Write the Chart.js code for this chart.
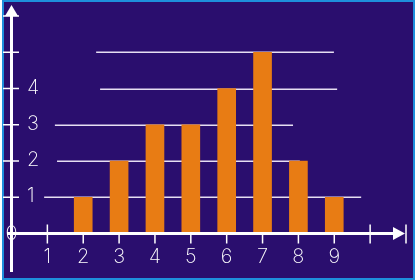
<!DOCTYPE html>
<html>
<head>
<meta charset="utf-8">
<script src="https://cdn.jsdelivr.net/npm/chart.js@4/dist/chart.umd.min.js"></script>
<style>
  html, body { margin: 0; padding: 0; background: #ffffff; }
  canvas { display: block; }
</style>
</head>
<body>
<canvas id="chart" width="415" height="280"></canvas>
<script>
// data
const categories = [1, 2, 3, 4, 5, 6, 7, 8, 9];
const counts = [0, 1, 2, 3, 3, 4, 5, 2, 1];
const xTickValues = [1, 2, 3, 4, 5, 6, 7, 8, 9, 10, 11];
const xTickLabels = ['1', '2', '3', '4', '5', '6', '7', '8', '9', '', ''];
const yTickValues = [0, 1, 2, 3, 4, 5, 6];
const yTickLabels = ['0', '1', '2', '3', '4', '', ''];
// horizontal rules: level and x-range they span
const ruleLevels = [1, 2, 3, 4, 5];
const ruleFrom = [0.91, 1.27, 1.21, 2.47, 2.36];
const ruleTo = [9.75, 8.04, 7.85, 9.08, 8.99];

const BG = '#2a0e6e';
const FRAME = '#1e8fdc';
const BAR = '#e87c14';
const FONT = '200 20px Inter, "Liberation Sans Narrow", sans-serif';

const decor = {
  id: 'decor',
  beforeDraw(chart) {
    const { ctx, width, height } = chart;
    ctx.save();
    ctx.fillStyle = '#ffffff';
    ctx.fillRect(0, 0, width, height);
    ctx.fillStyle = BG;
    ctx.fillRect(2, 0, width - 2, height);
    ctx.strokeStyle = FRAME;
    ctx.lineWidth = 2;
    ctx.strokeRect(3, 1, width - 4, height - 2);
    ctx.restore();
  },
  beforeDatasetsDraw(chart) {
    const { ctx, scales: { x, y } } = chart;
    ctx.save();
    ctx.strokeStyle = '#e6def2';
    ctx.lineWidth = 1.5;
    ruleLevels.forEach((lv, i) => {
      const py = Math.round(y.getPixelForValue(lv)) + 0.25;
      ctx.beginPath();
      ctx.moveTo(x.getPixelForValue(ruleFrom[i]), py);
      ctx.lineTo(x.getPixelForValue(ruleTo[i]), py);
      ctx.stroke();
    });
    ctx.restore();
  },
  afterDatasetsDraw(chart) {
    const { ctx, scales: { x, y } } = chart;
    const x0 = x.getPixelForValue(0);
    const y0 = y.getPixelForValue(0);
    const yTop = y.getPixelForValue(6);
    const xEnd = x.getPixelForValue(11);
    ctx.save();
    ctx.strokeStyle = '#ffffff';
    ctx.fillStyle = '#ffffff';

    // axes
    ctx.lineWidth = 3;
    ctx.beginPath();
    ctx.moveTo(x0, yTop - 2);
    ctx.lineTo(x0, 272);
    ctx.moveTo(7, y0);
    ctx.lineTo(xEnd - 12, y0);
    ctx.stroke();

    // arrow heads
    ctx.beginPath();
    ctx.moveTo(x0, 5);
    ctx.lineTo(x0 - 6.5, yTop);
    ctx.lineTo(x0 + 6.5, yTop);
    ctx.closePath();
    ctx.fill();
    ctx.beginPath();
    ctx.moveTo(xEnd - 1, y0);
    ctx.lineTo(xEnd - 13, y0 - 6.5);
    ctx.lineTo(xEnd - 13, y0 + 6.5);
    ctx.closePath();
    ctx.fill();

    // ticks
    ctx.lineWidth = 1.5;
    ctx.beginPath();
    yTickValues.forEach(v => {
      if (v === 0) return;
      const py = y.getPixelForValue(v);
      ctx.moveTo(3, py);
      ctx.lineTo(19, py);
    });
    xTickValues.forEach(v => {
      const px = x.getPixelForValue(v);
      const cross = (v === 1 || v === 10 || v === 11);
      ctx.moveTo(px, cross ? y0 - 9 : y0);
      ctx.lineTo(px, y0 + 10);
    });
    ctx.stroke();

    // labels
    ctx.font = FONT;
    ctx.textBaseline = 'middle';
    ctx.textAlign = 'center';
    xTickValues.forEach((v, i) => {
      if (!xTickLabels[i]) return;
      ctx.fillText(xTickLabels[i], x.getPixelForValue(v), 257);
    });
    yTickValues.forEach((v, i) => {
      const t = yTickLabels[i];
      if (!t) return;
      if (v === 0) {
        ctx.textAlign = 'center';
        ctx.fillText(t, x0, y0);
      } else {
        ctx.textAlign = 'left';
        ctx.fillText(t, 27, y.getPixelForValue(v) - 1);
      }
    });
    ctx.restore();
  }
};

new Chart(document.getElementById('chart'), {
  type: 'bar',
  data: {
    datasets: [{
      data: categories.map((c, i) => ({ x: c, y: counts[i] })),
      backgroundColor: BAR,
      borderWidth: 0,
      barThickness: 18
    }]
  },
  options: {
    responsive: false,
    animation: false,
    devicePixelRatio: 1,
    layout: { padding: { left: 11.5, right: 9, top: 16, bottom: 46.5 } },
    plugins: {
      legend: { display: false },
      tooltip: { enabled: false }
    },
    scales: {
      x: { type: 'linear', min: 0, max: 11, offset: false, display: false },
      y: { min: 0, max: 6, display: false }
    }
  },
  plugins: [decor]
});
</script>
</body>
</html>
